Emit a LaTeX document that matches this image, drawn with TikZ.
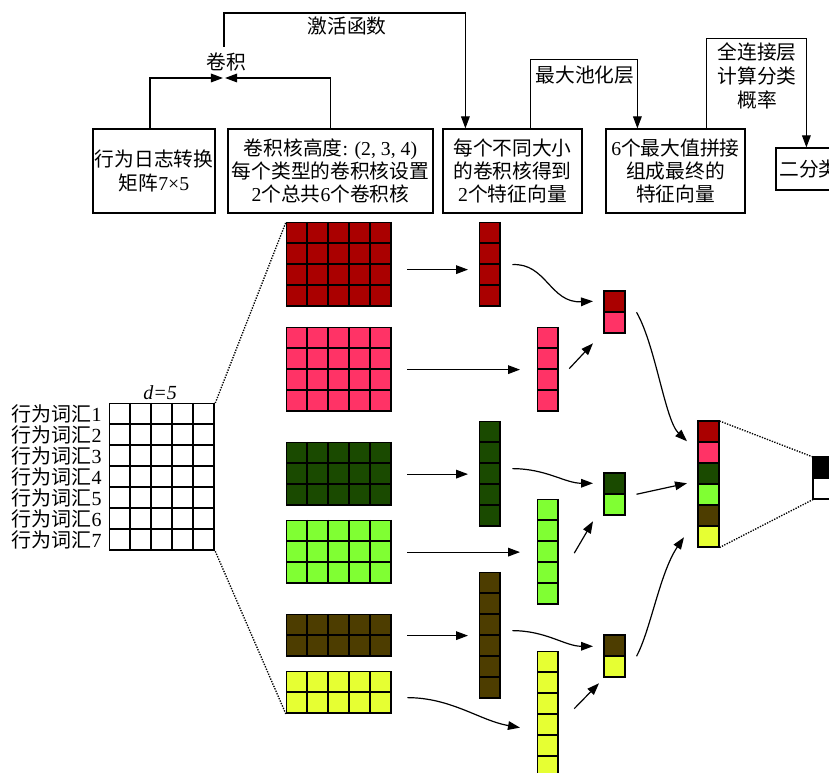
\documentclass[tikz,border=0pt]{standalone}
\usepackage{fontspec}
\setmainfont{Liberation Serif}
\newfontfamily\cjk{Noto Sans CJK SC}
\newcommand{\zh}[1]{{\cjk #1}}
\usetikzlibrary{arrows.meta,calc}
\definecolor{cdred}{HTML}{AA0000}
\definecolor{cpink}{HTML}{FF3366}
\definecolor{cdgreen}{HTML}{1A4A00}
\definecolor{clgreen}{HTML}{80FF33}
\definecolor{cbrown}{HTML}{4D3D00}
\definecolor{cyellow}{HTML}{E6FF33}
% name, x, y, cols, rows, color, cellw, cellh
\newcommand{\mygrid}[8]{%
  \fill[#6] (#2,#3) rectangle ++({#4*#7},{#5*#8});
  \foreach \i in {1,...,#4}{\draw[cellln] ({#2+\i*#7},#3) -- ++(0,{#5*#8});}%
  \foreach \j in {1,...,#5}{\draw[cellln] (#2,{#3+\j*#8}) -- ++({#4*#7},0);}%
  \node[cellln,draw,inner sep=0pt,minimum width=#4*#7*0.75pt,minimum height=#5*#8*0.75pt,anchor=north west] (#1) at (#2,#3) {};}
% name, x, y, n, colors
\newcommand{\mycol}[5]{%
  \foreach \cc [count=\n] in {#5}{%
    \draw[cellln,fill=\cc] (#2,{#3+(\n-1)*21}) rectangle ++(21,21);}%
  \node[inner sep=0pt,minimum width=15.75pt,minimum height=#4*15.75pt,anchor=north west] (#1) at (#2,#3) {};}
\begin{document}
\begin{tikzpicture}[x=0.75pt,y=-0.75pt,
  cellln/.style={draw=black,line width=0.95pt},
  box/.style={draw,line width=0.9pt,inner sep=0pt,align=center,font=\fontsize{14.8}{17.5}\selectfont},
  lbl/.style={inner sep=0pt,align=center,font=\fontsize{14.8}{18}\selectfont},
  rowlbl/.style={inner sep=0pt,font=\fontsize{15}{15}\selectfont},
  arr/.style={line width=0.9pt,-{Triangle[length=9pt,width=6.5pt]}},
  dots/.style={line width=1pt,densely dotted}]
\useasboundingbox (0,0) rectangle (829,773);
\clip (0,0) rectangle (829,773);
\fill[white] (0,0) rectangle (829,773);

% top boxes
\node[box,minimum width=91.5pt,minimum height=63pt] (box1) at (154,171) {\zh{行为日志转换}\\\zh{矩阵}7×5};
\node[box,minimum width=153.75pt,minimum height=63pt] (box2) at (330.5,171) {\zh{卷积核高度}: (2, 3, 4)\\\zh{每个类型的卷积核设置}\\2\zh{个总共}6\zh{个卷积核}};
\node[box,minimum width=104.25pt,minimum height=63pt] (box3) at (512.5,171) {\zh{每个不同大小}\\\zh{的卷积核得到}\\2\zh{个特征向量}};
\node[box,minimum width=104.25pt,minimum height=63pt] (box4) at (675.5,171) {6\zh{个最大值拼接}\\\zh{组成最终的}\\\zh{特征向量}};
\node[box,minimum width=49.5pt,minimum height=31.5pt] (box5) at (809,169) {\zh{二分类}};

% top connectors
\node[lbl] (conv) at (226,62) {\zh{卷积}};
\coordinate (meet) at (224,78);
\coordinate (convtop) at (224,47);
\draw[arr] ([xshift=-3pt]box1.north) |- ([xshift=-0.8pt]meet);
\draw[arr] (box2.north) |- ([xshift=0.8pt]meet);
\draw[arr] (convtop) -- ++(0,-34) -| ($(box3.north west)+(23,0)$);
\node[lbl] (act) at (347,26) {\zh{激活函数}};
\draw[arr] ($(box3.north west)+(88,0)$) -- ++(0,-69) -| ($(box4.north west)+(32,0)$);
\node[lbl] (pool) at (585,75) {\zh{最大池化层}};
\draw[arr] ($(box4.north west)+(101,0)$) -- ++(0,-90) -| ($(box5.north west)+(31,0)$);
\node[lbl] (fc) at (757,76) {\zh{全连接层}\\\zh{计算分类}\\\zh{概率}};

% input matrix
\mygrid{inp}{109}{403}{5}{7}{white}{21}{21}
\foreach \i in {1,...,7}{\node[rowlbl,anchor=east] (r\i) at (102,{403+(\i-0.5)*21}) {\zh{行为词汇}\i};}
\node[rowlbl] (dlbl) at (160,393) {\itshape d=5};

% kernels
\mygrid{k1}{286}{222}{5}{4}{cdred}{21}{21}
\mygrid{k2}{286}{327}{5}{4}{cpink}{21}{21}
\mygrid{k3}{286}{442}{5}{3}{cdgreen}{21}{21}
\mygrid{k4}{286}{520}{5}{3}{clgreen}{21}{21}
\mygrid{k5}{286}{614}{5}{2}{cbrown}{21}{21}
\mygrid{k6}{286}{671}{5}{2}{cyellow}{21}{21}

% feature maps
\mygrid{f1}{479}{222}{1}{4}{cdred}{21}{21}
\mygrid{f2}{537}{327}{1}{4}{cpink}{21}{21}
\mygrid{f3}{479}{421}{1}{5}{cdgreen}{21}{21}
\mygrid{f4}{537}{499}{1}{5}{clgreen}{21}{21}
\mygrid{f5}{479}{572}{1}{6}{cbrown}{21}{21}
\mygrid{f6}{537}{651}{1}{6}{cyellow}{21}{21}

% pooled
\mycol{p1}{604}{291}{2}{cdred,cpink}
\mycol{p2}{604}{473}{2}{cdgreen,clgreen}
\mycol{p3}{604}{635}{2}{cbrown,cyellow}

% concatenated
\mycol{cat}{698}{421}{6}{cdred,cpink,cdgreen,clgreen,cbrown,cyellow}

% output
\mycol{out}{813}{457}{2}{black,white}

% dotted
\draw[dots] (inp.north east) -- (k1.north west);
\draw[dots] (inp.south east) -- (k6.south west);
\draw[dots] (cat.north east) -- (out.north west);
\draw[dots] (cat.south east) -- (out.south west);

% kernel -> feature
\draw[arr] ($(k1.east)+(15,5)$) -- ($(f1.west)+(-11,5)$);
\draw[arr] ($(k2.east)+(15,0)$) -- ($(f2.west)+(-17,0)$);
\draw[arr] ($(k3.east)+(15,0)$) -- ($(f3.west)+(-11,0)$);
\draw[arr] ($(k4.east)+(15,0)$) -- ($(f4.west)+(-17,0)$);
\draw[arr] ($(k5.east)+(15,0)$) -- ($(f5.west)+(-11,0)$);
\draw[arr] ($(k6.east)+(15,5)$) .. controls +(44,0) and +(-40,-7) .. ($(f6.west)+(-17,13)$);

% feature -> pool
\draw[arr] ($(f1.east)+(11,0)$) .. controls +(34,-2) and +(-43,2) .. ($(p1.west)+(-11,-11)$);
\draw[arr] ($(f2.east)+(10,-1)$) -- ($(p1.west)+(-11,31)$);
\draw[arr] ($(f3.east)+(11,-5.5)$) .. controls +(34,0) and +(-28,0) .. ($(p2.west)+(-11,-11)$);
\draw[arr] ($(f4.east)+(15,1)$) -- ($(p2.west)+(-11,27)$);
\draw[arr] ($(f5.east)+(11,-5)$) .. controls +(34,0) and +(-28,0) .. ($(p3.west)+(-11,-10)$);
\draw[arr] ($(f6.east)+(15,-6)$) -- ($(p3.west)+(-5,27)$);

% pool -> concat
\draw[arr] ($(p1.east)+(11,0)$) .. controls +(19,33) and +(-22,-21) .. ($(cat.west)+(-11,-43)$);
\draw[arr] ($(p2.east)+(11,0)$) -- ($(cat.west)+(-11,-1)$);
\draw[arr] ($(p3.east)+(11,0)$) .. controls +(14,-26) and +(-24,35) .. ($(cat.west)+(-14,53)$);
\end{tikzpicture}
\end{document}
